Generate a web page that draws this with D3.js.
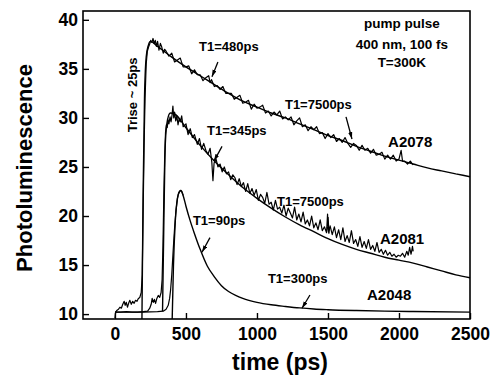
<!DOCTYPE html>
<html><head><meta charset="utf-8">
<script src="https://cdn.jsdelivr.net/npm/d3@7"></script>
<style>body{margin:0;background:#fff}svg{display:block}</style>
</head><body>
<svg id="c" width="495" height="385"></svg>
<script>
// ---- data (time in ps, photoluminescence in arb. units) ----
const xTicks = [0, 500, 1000, 1500, 2000, 2500];
const yTicks = [10, 15, 20, 25, 30, 35, 40];

const a2078Data = [[0,9.6],[5,10.2],[15,10.4],[25,10.5],[35,10.7],[45,10.6],[55,11.0],[65,11.3],[72,10.9],[80,11.2],[88,10.7],[96,11.1],[105,11.4],[115,11.0],[125,11.3],[135,11.1],[145,11.4],[155,11.3],[165,11.6],[175,11.7],[185,12.2],[192,14],[198,20],[205,27],[212,32],[220,35.5],[228,36.8],[236,37.2],[244,37.5],[252,37.9],[260,37.7],[268,38.1],[276,37.6],[284,37.9],[292,37.3],[300,37.8],[310,36.9],[320,37.6],[330,37.2],[340,36.6],[350,37.0],[360,36.8],[380,36.3],[400,36.6],[420,35.7],[440,35.9],[460,36.1],[480,35.2],[500,35.2],[520,35.3],[540,34.5],[560,34.9],[580,34.4],[600,34.4],[620,33.8],[640,34.1],[660,34.3],[670,33.6],[680,33.9],[700,33.2],[720,33.3],[740,32.9],[760,33.2],[780,32.5],[800,32.5],[820,32.5],[840,31.9],[860,32.1],[880,32.3],[900,31.5],[920,31.6],[940,31.8],[960,30.9],[980,31.4],[1000,31.0],[1020,31.1],[1040,31.3],[1060,30.5],[1080,30.7],[1100,30.2],[1120,30.6],[1140,30.3],[1160,30.7],[1180,29.9],[1200,30.1],[1220,29.8],[1240,30.1],[1260,29.3],[1280,29.7],[1300,30.0],[1320,29.1],[1340,29.3],[1360,28.7],[1380,29.1],[1400,28.8],[1420,29.1],[1440,28.4],[1460,28.5],[1480,27.9],[1500,28.4],[1520,28.0],[1540,28.3],[1560,27.6],[1580,27.9],[1600,27.5],[1620,28.0],[1640,27.4],[1660,27.0],[1680,27.4],[1700,27.2],[1720,26.7],[1740,27.2],[1760,26.7],[1780,26.9],[1800,26.4],[1820,26.8],[1840,26.2],[1860,26.3],[1880,26.5],[1900,25.8],[1920,26.2],[1940,25.8],[1960,26.2],[1980,25.6],[2000,25.8],[2015,26.7],[2025,25.6],[2040,25.6],[2060,25.3],[2080,25.6],[2100,25.2]];
const a2078Fit = [[190,9.5],[198,22],[208,32],[220,36.2],[235,37.4],[250,37.8],[300,37.3],[400,36.2],[500,35.2],[600,34.3],[700,33.4],[800,32.5],[900,31.7],[1000,31.1],[1100,30.5],[1200,30.0],[1300,29.4],[1400,28.8],[1500,28.2],[1600,27.7],[1700,27.1],[1800,26.6],[1900,26.1],[2000,25.7],[2100,25.3],[2200,24.9],[2300,24.6],[2400,24.3],[2500,24.0]];

const a2081Data = [[0,10.2],[40,10.2],[80,10.25],[120,10.2],[160,10.2],[200,10.25],[230,10.3],[245,10.6],[255,11.0],[262,11.6],[270,11.2],[278,11.5],[286,11.1],[295,11.6],[305,11.9],[315,11.7],[325,12.2],[332,13.5],[338,17],[344,22],[350,26],[356,28.5],[362,29.3],[368,29.0],[374,29.8],[380,29.4],[388,30.1],[395,29.6],[402,30.3],[408,31.2],[414,30.0],[420,30.6],[428,29.7],[436,30.2],[444,29.3],[452,29.9],[460,29.6],[470,30.2],[480,29.1],[500,29.4],[515,28.3],[530,28.9],[545,28.0],[560,28.3],[580,27.3],[595,27.9],[610,26.8],[625,27.4],[640,26.7],[655,26.3],[670,26.9],[682,25.5],[690,23.6],[698,25.4],[712,25.8],[725,25.0],[740,25.3],[755,24.5],[770,25.0],[785,24.3],[800,24.5],[815,23.7],[830,24.2],[845,23.9],[860,23.2],[875,23.8],[890,23.0],[905,23.4],[920,22.5],[935,23.3],[950,22.3],[965,22.8],[980,22.1],[995,22.7],[1010,21.6],[1025,22.2],[1040,21.9],[1055,21.3],[1070,22.4],[1085,21.2],[1100,21.4],[1115,20.6],[1130,21.6],[1145,20.7],[1160,20.9],[1175,20.3],[1190,21.1],[1205,20.0],[1220,20.8],[1235,20.3],[1250,19.8],[1265,20.9],[1280,19.6],[1295,20.2],[1310,19.4],[1325,20.4],[1340,19.2],[1355,19.6],[1370,19.0],[1385,20.0],[1400,18.8],[1415,19.3],[1430,18.6],[1445,19.6],[1460,18.5],[1475,18.9],[1490,18.3],[1497,20.2],[1503,18.4],[1515,19.0],[1530,18.1],[1545,18.9],[1560,17.8],[1575,18.6],[1590,17.6],[1605,18.8],[1620,17.4],[1635,18.0],[1650,17.3],[1665,18.5],[1680,17.2],[1695,17.6],[1710,16.9],[1725,17.9],[1740,16.8],[1755,17.4],[1770,16.7],[1785,17.6],[1800,16.6],[1815,17.0],[1830,16.4],[1845,17.3],[1860,16.3],[1875,16.6],[1890,16.1],[1905,16.5],[1920,16.0],[1935,16.3],[1950,15.9],[1965,16.1],[1980,15.8],[1995,16.0],[2010,15.9],[2025,16.2],[2040,15.8],[2055,16.4],[2065,16.0],[2075,16.8],[2085,16.1],[2095,16.9],[2100,16.4]];
const a2081Fit = [[335,10.3],[345,20],[355,27.5],[370,29.8],[390,30.5],[420,30.4],[500,29.0],[600,27.2],[700,25.6],[800,24.2],[900,22.9],[1000,21.8],[1100,20.8],[1200,19.9],[1300,19.1],[1400,18.4],[1500,17.7],[1600,17.1],[1700,16.6],[1800,16.2],[1900,15.8],[2000,15.5],[2100,15.2],[2200,14.8],[2300,14.4],[2400,14.0],[2500,13.7]];

const a2048Data = [[0,10.2],[100,10.2],[200,10.2],[300,10.25],[340,10.3],[360,10.5],[375,10.9],[385,11.6],[392,12.5],[400,14.0],[410,16.5],[420,18.8],[430,20.6],[440,21.8],[450,22.4],[460,22.6],[470,22.5],[480,22.1]];
const a2048Fit = [[403,9.5],[412,15],[425,19.5],[440,21.8],[455,22.5],[465,22.6],[480,22.1],[500,21.0],[530,19.5],[560,18.2],[600,16.6],[650,14.9],[700,13.8],[750,12.9],[800,12.3],[850,11.9],[900,11.6],[1000,11.2],[1100,10.95],[1200,10.78],[1300,10.63],[1400,10.52],[1500,10.45],[1700,10.36],[1900,10.3],[2100,10.26],[2500,10.2]];

// ---- annotations (data coordinates) ----
const labels = [
  {text:"T1=480ps", t:592, v:36.8, size:13},
  {text:"T1=7500ps", t:1197, v:30.9, size:13},
  {text:"A2078", t:1923, v:27.0, size:15},
  {text:"T1=345ps", t:648, v:28.3, size:13},
  {text:"T1=7500ps", t:1141, v:21.0, size:13},
  {text:"A2081", t:1866, v:17.1, size:15},
  {text:"T1=90ps", t:549, v:19.1, size:13},
  {text:"T1=300ps", t:1077, v:13.2, size:13},
  {text:"A2048", t:1775, v:11.4, size:15}
];
const arrows = [
  [725,35.7,683,34.2],
  [1627,30.1,1669,27.85],
  [754,27.1,697,25.6],
  [1500,19.9,1507,18.2],
  [669,17.8,613,16.3],
  [1373,11.95,1317,10.6]
];
const infoLines = ["pump pulse", "400 nm, 100 fs", "T=300K"];
const infoV = [39.2, 37.05, 35.2];

// ---- drawing ----
const svg = d3.select("#c");
const FONT = "'Liberation Sans', Arial, Helvetica, sans-serif";
const x = d3.scaleLinear().domain([-225, 2500]).range([83, 470]);
const y = d3.scaleLinear().domain([9.5, 40.9]).range([319, 11]);

svg.append("defs").append("marker")
  .attr("id","ah").attr("viewBox","0 0 10 6").attr("refX",10).attr("refY",3)
  .attr("markerWidth",7).attr("markerHeight",4.5).attr("markerUnits","userSpaceOnUse")
  .attr("orient","auto")
  .append("path").attr("d","M0,0L10,3L0,6Z").attr("fill","#000");

const lineLin = d3.line().x(d=>x(d[0])).y(d=>y(d[1]));
const lineSm = d3.line().x(d=>x(d[0])).y(d=>y(d[1])).curve(d3.curveMonotoneX);

const plot = svg.append("g");
[a2078Fit, a2081Fit, a2048Fit].forEach(s => plot.append("path").attr("d", lineSm(s))
  .attr("fill","none").attr("stroke","#000").attr("stroke-width",1.4));
[a2078Data, a2081Data, a2048Data].forEach(s => plot.append("path").attr("d", lineLin(s))
  .attr("fill","none").attr("stroke","#000").attr("stroke-width",1.2).attr("stroke-linejoin","round"));

// axes
const ax = svg.append("g").attr("transform","translate(0,319)")
  .call(d3.axisBottom(x).tickValues(xTicks).tickFormat(d3.format("d")).tickSizeInner(-6).tickSizeOuter(0).tickPadding(9));
const ay = svg.append("g").attr("transform","translate(83,0)")
  .call(d3.axisLeft(y).tickValues(yTicks).tickFormat(d3.format("d")).tickSizeInner(-6).tickSizeOuter(0).tickPadding(5));
[ax, ay].forEach(a => {
  a.select(".domain").remove();
  a.selectAll(".tick line").attr("stroke","#000").attr("stroke-width",1.4);
  a.selectAll(".tick text").attr("font-family",FONT).attr("font-size",17.5)
   .attr("font-weight","bold").attr("fill","#000");
});

// frame
svg.append("rect").attr("x",x(-225)).attr("y",y(40.9))
  .attr("width",x(2500)-x(-225)).attr("height",y(9.5)-y(40.9))
  .attr("fill","none").attr("stroke","#000").attr("stroke-width",1.6);

// annotations
labels.forEach(l => svg.append("text").attr("x",x(l.t)).attr("y",y(l.v))
  .attr("font-family",FONT).attr("font-size",l.size).attr("font-weight","bold")
  .attr("fill","#000").text(l.text));
arrows.forEach(a => svg.append("line").attr("x1",x(a[0])).attr("y1",y(a[1]))
  .attr("x2",x(a[2])).attr("y2",y(a[3])).attr("stroke","#000").attr("stroke-width",1.3)
  .attr("marker-end","url(#ah)"));
infoLines.forEach((s,i) => svg.append("text").attr("x",x(2020)).attr("y",y(infoV[i]))
  .attr("text-anchor","middle").attr("font-family",FONT).attr("font-size",13.5)
  .attr("font-weight","bold").attr("fill","#000").text(s));
svg.append("text").attr("transform",`translate(${x(127)},${y(32.35)}) rotate(-90)`)
  .attr("text-anchor","middle").attr("dominant-baseline","central")
  .attr("font-family",FONT).attr("font-size",13).attr("font-weight","bold").text("Trise ~ 25ps");

// axis titles
svg.append("text").attr("transform","translate(24,168) rotate(-90)")
  .attr("text-anchor","middle").attr("dominant-baseline","central")
  .attr("font-family",FONT).attr("font-size",22).attr("font-weight","bold").text("Photoluminescence");
svg.append("text").attr("x",280).attr("y",370).attr("text-anchor","middle")
  .attr("font-family",FONT).attr("font-size",23).attr("font-weight","bold").text("time (ps)");
</script>
</body></html>
